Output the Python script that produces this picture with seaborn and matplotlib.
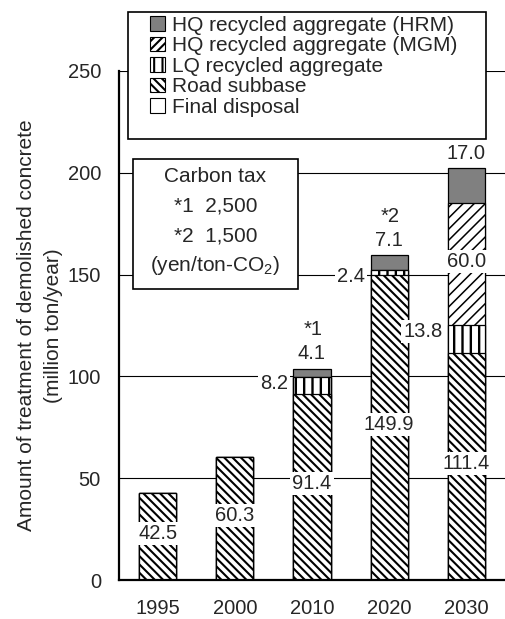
import matplotlib
matplotlib.use("Agg")
import matplotlib.pyplot as plt
import matplotlib.patches as mpatches
import numpy as np
import pandas as pd
import seaborn as sns

# ---------------- data ----------------
years = ["1995", "2000", "2010", "2020", "2030"]
final_disposal = [0.0, 0.0, 0.0, 0.0, 0.0]
road_subbase = [42.5, 60.3, 91.4, 149.9, 111.4]
lq_aggregate = [0.0, 0.0, 8.2, 2.4, 13.8]
mgm_aggregate = [0.0, 0.0, 0.0, 0.0, 60.0]
hrm_aggregate = [0.0, 0.0, 4.1, 7.1, 17.0]
tax_marks = ["", "", "*1", "*2", ""]
yticks = [0, 50, 100, 150, 200, 250]
legend_labels = ["HQ recycled aggregate (HRM)", "HQ recycled aggregate (MGM)",
                 "LQ recycled aggregate", "Road subbase", "Final disposal"]
box_lines = ["Carbon tax", "*1  2,500", "*2  1,500", "(yen/ton-CO$_2$)"]

# ---------------- style ----------------
sns.set_style("white")
FONT = ["Liberation Sans", "DejaVu Sans"]
plt.rcParams["font.family"] = FONT
plt.rcParams["mathtext.fontset"] = "custom"
plt.rcParams["mathtext.rm"] = "Liberation Sans"
plt.rcParams["mathtext.it"] = "Liberation Sans"
plt.rcParams["mathtext.default"] = "regular"

W, H = 505, 619
fig = plt.figure(figsize=(W / 100, H / 100), dpi=100)
ax_l, ax_b, ax_r, ax_t = 119, 580, 505, 71   # pixel box (top-origin y)
ax = fig.add_axes([ax_l / W, (H - ax_b) / H, (ax_r - ax_l) / W, (ax_b - ax_t) / H])

df = pd.DataFrame({
    "year": years,
    "fd": final_disposal,
    "road": road_subbase,
    "lq": lq_aggregate,
    "mgm": mgm_aggregate,
    "hrm": hrm_aggregate,
})
df["c_fd"] = df["fd"]
df["c_road"] = df["c_fd"] + df["road"]
df["c_lq"] = df["c_road"] + df["lq"]
df["c_mgm"] = df["c_lq"] + df["mgm"]
df["c_hrm"] = df["c_mgm"] + df["hrm"]

GRAY = "#808080"
BW = 0.48
layers = [  # (cumulative column, facecolor, hatch, hatch lw)
    ("c_hrm", GRAY, None, 1.0),
    ("c_mgm", "white", "///", 1.1),
    ("c_lq", "white", "||", 1.7),
    ("c_road", "white", "\\\\\\\\", 1.5),
]
for col, fc, hatch, hlw in layers:
    plt.rcParams["hatch.linewidth"] = hlw
    n0 = len(ax.patches)
    sns.barplot(data=df, x="year", y=col, ax=ax, color=fc, saturation=1,
                width=BW, errorbar=None, edgecolor="black", linewidth=0.9,
                hatch=hatch, zorder=2)
    for p in ax.patches[n0:]:
        if hasattr(p, "set_hatch_linewidth"):
            p.set_hatch_linewidth(hlw)

# axes styling
ax.set_xlim(-0.5, 4.5)
ax.set_ylim(0, 250)
ax.set_yticks(yticks)
ax.yaxis.grid(True, color="black", linewidth=0.8)
ax.set_axisbelow(True)
for s in ["top", "right"]:
    ax.spines[s].set_visible(False)
for s in ["left", "bottom"]:
    ax.spines[s].set_linewidth(1.6)
    ax.spines[s].set_color("black")
ax.tick_params(axis="y", length=0, pad=13, labelsize=14.5)
ax.tick_params(axis="x", which="major", length=0, pad=14, labelsize=14.5)
ax.set_xticks([0.5, 1.5, 2.5, 3.5], minor=True)
ax.tick_params(axis="x", which="minor", direction="in", length=3.6, width=1, color="black")
ax.set_xlabel("")
ax.set_ylabel("Amount of treatment of demolished concrete\n(million ton/year)",
              fontsize=15, linespacing=1.55)
ax.yaxis.set_label_coords(-0.145, 0.5)

# value labels
box = dict(facecolor="white", edgecolor="none", pad=1.5)
FS = 14.5
for i in range(len(years)):
    r = road_subbase[i]
    ax.text(i, r / 2 + 1.5, f"{r:.1f}", ha="center", va="center", fontsize=FS,
            bbox=box, zorder=5)
    if lq_aggregate[i] > 0:
        top = df["c_lq"][i]
        ax.text(i - BW / 2 - 0.07, top - 3, f"{lq_aggregate[i]:.1f}", ha="right",
                va="center", fontsize=FS, bbox=box, zorder=5)
    if mgm_aggregate[i] > 0:
        mid = df["c_lq"][i] + mgm_aggregate[i] / 2
        ax.text(i, mid + 1, f"{mgm_aggregate[i]:.1f}", ha="center", va="center",
                fontsize=FS, bbox=box, zorder=5)
    if hrm_aggregate[i] > 0:
        top = df["c_hrm"][i]
        ax.annotate(f"{hrm_aggregate[i]:.1f}", (i, top), xytext=(0, 11),
                    textcoords="offset points", ha="center", va="center",
                    fontsize=FS, zorder=5)
        if tax_marks[i]:
            ax.annotate(tax_marks[i], (i, top), xytext=(1, 28),
                        textcoords="offset points", ha="center", va="center",
                        fontsize=FS, zorder=5)

# legend (frame drawn separately)
def fig_xy(px, py):
    return px / W, (H - py) / H

lx0, ly0, lx1, ly1 = 128, 12, 486, 139
fig.patches.append(mpatches.Rectangle(fig_xy(lx0, ly1), (lx1 - lx0) / W, (ly1 - ly0) / H,
                                      transform=fig.transFigure, facecolor="white",
                                      edgecolor="black", linewidth=1.2, zorder=3))
handles = [
    mpatches.Patch(facecolor=GRAY, edgecolor="black", linewidth=0.8),
    mpatches.Patch(facecolor="white", edgecolor="black", hatch="////", linewidth=0.8),
    mpatches.Patch(facecolor="white", edgecolor="black", hatch="||", linewidth=0.8),
    mpatches.Patch(facecolor="white", edgecolor="black", hatch="\\\\\\\\", linewidth=0.8),
    mpatches.Patch(facecolor="white", edgecolor="black", linewidth=0.8),
]
leg = fig.legend(handles, legend_labels, loc="upper left",
                 bbox_to_anchor=fig_xy(150, 16), bbox_transform=fig.transFigure,
                 frameon=False, fontsize=15, borderpad=0, borderaxespad=0,
                 labelspacing=0.07, handlelength=0.72, handleheight=0.7,
                 handletextpad=0.35)
leg.set_zorder(4)

# carbon tax box
bx0, by0, bx1, by1 = 133, 159, 298, 289
fig.patches.append(mpatches.Rectangle(fig_xy(bx0, by1), (bx1 - bx0) / W, (by1 - by0) / H,
                                      transform=fig.transFigure, facecolor="white",
                                      edgecolor="black", linewidth=1.2, zorder=3))
for k, line in enumerate(box_lines):
    x, y = fig_xy((bx0 + bx1) / 2, 177 + 29.5 * k)
    fig.text(x, y, line, ha="center", va="center", fontsize=15, zorder=4)

fig.savefig("out.png", dpi=100)
